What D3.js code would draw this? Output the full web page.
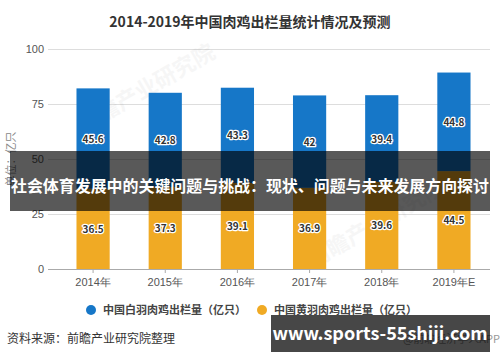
<!DOCTYPE html>
<html>
<head>
<meta charset="utf-8">
<style>
  body { margin: 0; background: #fff; }
  svg { display: block; font-family: "Microsoft YaHei", "Noto Sans CJK SC", sans-serif; }
  .grid line { stroke: #ddd; stroke-width: 1px; }
  .tick text { fill: #555; font-size: 11px; }
  .lbl { font-size: 10px; font-weight: bold; fill: #333; paint-order: stroke; stroke: #fff; stroke-width: 2.5px; stroke-linejoin: round; }
</style>
</head>
<body>
<svg width="500" height="362"></svg>
<script src="https://cdnjs.cloudflare.com/ajax/libs/d3/7.8.5/d3.min.js"></script>
<script>
var years = ["2014年", "2015年", "2016年", "2017年", "2018年", "2019年E"];
var yellow = [36.5, 37.3, 39.1, 36.9, 39.6, 44.5];
var white = [45.6, 42.8, 43.3, 42, 39.4, 44.8];
var yTicks = [0, 25, 50, 75, 100];
var seriesNames = ["中国白羽肉鸡出栏量（亿只）", "中国黄羽肉鸡出栏量（亿只）"];

var svg = d3.select("svg");
var blueC = "#1677c8", yellowC = "#f0aa24";

var x = d3.scaleBand().domain(years).range([57, 490]).paddingInner(0.54).paddingOuter(0.27);
var y = d3.scaleLinear().domain([0, 100]).range([269, 49]);

svg.append("text").attr("x", 250).attr("y", 27).attr("text-anchor", "middle")
  .style("font-size", "14px").style("font-weight", "bold").style("fill", "#333")
  .text("2014-2019年中国肉鸡出栏量统计情况及预测");

// grid
var g = svg.append("g").attr("class", "grid");
g.selectAll("line").data(yTicks).enter().append("line")
  .attr("x1", 48).attr("x2", 490)
  .attr("y1", function(d){ return y(d) + 0.5; }).attr("y2", function(d){ return y(d) + 0.5; })
  .style("stroke", function(d){ return d === 0 ? "#aaa" : "#ddd"; });

svg.append("g").attr("transform", "translate(44,0)")
  .call(d3.axisLeft(y).tickValues(yTicks).tickSize(0).tickPadding(0))
  .call(function(s){ s.select(".domain").remove(); });

svg.append("g").attr("transform", "translate(0,269)")
  .call(d3.axisBottom(x).tickSize(4).tickPadding(5))
  .call(function(s){
    s.select(".domain").remove();
    s.selectAll(".tick line").style("stroke", "#aaa");
  });

svg.append("text").attr("transform", "translate(15,159) rotate(-90)")
  .attr("text-anchor", "middle").style("font-size", "11px").style("fill", "#888")
  .text("单位：亿只");

// faint watermark
svg.append("text").attr("transform", "translate(150,95) rotate(-30)")
  .attr("text-anchor", "middle").style("font-size", "22px").style("font-weight", "bold")
  .style("fill", "#000").style("opacity", 0.03).text("前瞻产业研究院");
svg.append("text").attr("transform", "translate(380,230) rotate(-30)")
  .attr("text-anchor", "middle").style("font-size", "22px").style("font-weight", "bold")
  .style("fill", "#000").style("opacity", 0.03).text("前瞻产业研究院");

var rows = years.map(function(d, i){ return { year: d, yl: yellow[i], wh: white[i] }; });

svg.selectAll(".by").data(rows).enter().append("rect")
  .attr("x", function(d){ return x(d.year); }).attr("width", x.bandwidth())
  .attr("y", function(d){ return y(d.yl); }).attr("height", function(d){ return y(0) - y(d.yl); })
  .style("fill", yellowC);
svg.selectAll(".bw").data(rows).enter().append("rect")
  .attr("x", function(d){ return x(d.year); }).attr("width", x.bandwidth())
  .attr("y", function(d){ return y(d.yl + d.wh); }).attr("height", function(d){ return y(d.yl) - y(d.yl + d.wh); })
  .style("fill", blueC);

svg.selectAll(".ly").data(rows).enter().append("text").attr("class", "lbl")
  .attr("x", function(d){ return x(d.year) + x.bandwidth() / 2; })
  .attr("y", function(d){ return y(d.yl / 2) + 4; }).attr("text-anchor", "middle")
  .text(function(d){ return d.yl; });
svg.selectAll(".lw").data(rows).enter().append("text").attr("class", "lbl")
  .attr("x", function(d){ return x(d.year) + x.bandwidth() / 2; })
  .attr("y", function(d){ return y(d.yl + d.wh / 2) + 4; }).attr("text-anchor", "middle")
  .text(function(d){ return d.wh; });

// legend
var leg = [{ x: 91, c: blueC, t: seriesNames[0] }, { x: 262, c: yellowC, t: seriesNames[1] }];
leg.forEach(function(l){
  svg.append("circle").attr("cx", l.x).attr("cy", 310).attr("r", 5).style("fill", l.c);
  svg.append("text").attr("x", l.x + 12).attr("y", 314).style("font-size", "11px")
    .style("font-weight", "bold").style("fill", "#444").text(l.t);
});

svg.append("text").attr("x", 7).attr("y", 343).style("font-size", "12px").style("fill", "#333")
  .text("资料来源：前瞻产业研究院整理");
svg.append("text").attr("x", 500).attr("y", 343).attr("text-anchor", "end")
  .style("font-size", "11px").style("fill", "#999")
  .text("@前瞻经济学人APP");

// overlay banner
svg.append("rect").attr("x", 10).attr("y", 151).attr("width", 480).attr("height", 60)
  .style("fill", "#000").style("opacity", 0.65);
svg.append("text").attr("x", 250).attr("y", 192).attr("text-anchor", "middle")
  .attr("textLength", 478).attr("lengthAdjust", "spacingAndGlyphs")
  .style("font-size", "16px").style("font-weight", "bold").style("fill", "#fff")
  .text("社会体育发展中的关键问题与挑战：现状、问题与未来发展方向探讨");

svg.append("rect").attr("x", 271).attr("y", 315).attr("width", 219).attr("height", 37)
  .style("fill", "#000").style("opacity", 0.72);
svg.append("text").attr("x", 380).attr("y", 340).attr("text-anchor", "middle")
  .style("font-size", "18px").style("font-weight", "bold").style("fill", "#fff")
  .text("www.sports-55shiji.com");
</script>
</body>
</html>
